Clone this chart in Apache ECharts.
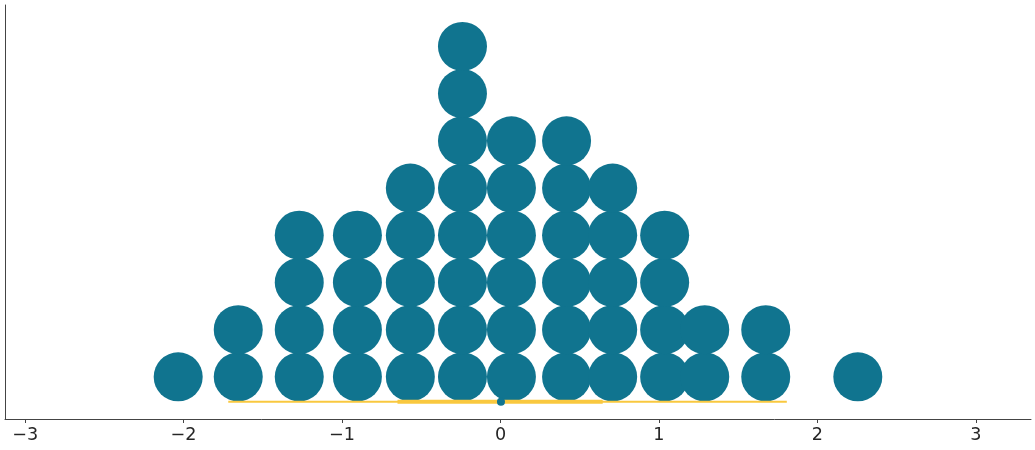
<!DOCTYPE html>
<html>
<head>
<meta charset="utf-8">
<script src="https://cdn.jsdelivr.net/npm/echarts@6/dist/echarts.min.js"></script>
<style>
  html, body { margin: 0; padding: 0; background: #fff; }
  #chart { width: 1035px; height: 450px; }
</style>
</head>
<body>
<div id="chart"></div>
<script>
// column centres of the dot stacks and how many dots sit in each
const dotX = [-2.034, -1.655, -1.270, -0.903, -0.569, -0.240, 0.069, 0.417, 0.708, 1.036, 1.289, 1.674, 2.255]
const dotCount = [1, 2, 4, 4, 5, 8, 6, 6, 5, 4, 2, 2, 1]
// interval lines under the dots
const hdiOuter = [-1.718, 1.807]
const hdiInner = [-0.650, 0.645]
const pointEstimate = 0.003
const xTicks = [-3, -2, -1, 0, 1, 2, 3]

const lineY = 0.475
const teal = '#10748f'
const gold = '#f9c83f'

const dots = []
dotX.forEach((x, i) => {
  for (let k = 1; k <= dotCount[i]; k++) {
    dots.push([x, k])
  }
})

const chart = echarts.init(document.getElementById('chart'))
const option = {
  animation: false,
  grid: {
    left: 5,
    right: 4,
    top: 5,
    bottom: 31
  },
  xAxis: {
    type: 'value',
    min: -3.127,
    max: 3.348,
    axisLine: {
      onZero: false,
      lineStyle: { color: '#444', width: 1 }
    },
    axisTick: {
      customValues: xTicks,
      length: 4,
      lineStyle: { color: '#444' }
    },
    axisLabel: {
      customValues: xTicks,
      formatter: v => String(v).replace('-', '\u2212'),
      fontFamily: 'DejaVu Sans',
      fontSize: 17.6,
      color: '#262626',
      margin: 7
    },
    splitLine: { show: false }
  },
  yAxis: {
    type: 'value',
    min: 0.107,
    max: 8.877,
    axisLine: {
      show: true,
      onZero: false,
      lineStyle: { color: '#444', width: 1 }
    },
    axisTick: { show: false },
    axisLabel: { show: false },
    splitLine: { show: false }
  },
  series: [
    {
      type: 'scatter',
      data: dots,
      symbolSize: 49,
      itemStyle: { color: teal, opacity: 1 },
      z: 2
    },
    {
      type: 'line',
      data: hdiOuter.map(x => [x, lineY]),
      symbol: 'none',
      lineStyle: { color: gold, width: 2 },
      z: 3
    },
    {
      type: 'line',
      data: hdiInner.map(x => [x, lineY]),
      symbol: 'none',
      lineStyle: { color: gold, width: 4 },
      z: 4
    },
    {
      type: 'scatter',
      data: [[pointEstimate, lineY]],
      symbolSize: 8,
      itemStyle: { color: teal, opacity: 1 },
      z: 5
    }
  ]
}
chart.setOption(option)
</script>
</body>
</html>
